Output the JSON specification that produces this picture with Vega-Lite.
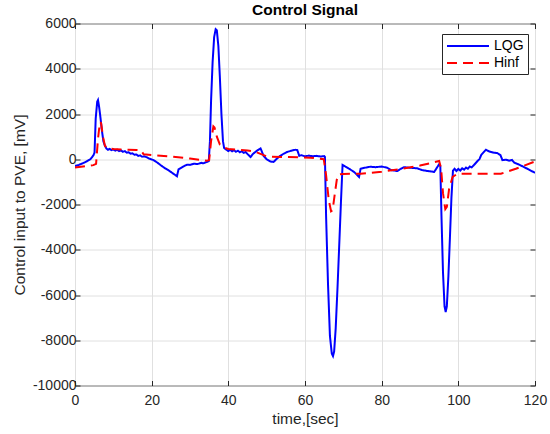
{
  "$schema": "https://vega.github.io/schema/vega-lite/v6.json",
  "width": 460,
  "height": 362,
  "autosize": "none",
  "padding": {"left": 75, "top": 23.5, "right": 15, "bottom": 48.5},
  "background": "white",
  "title": {"text": "Control Signal", "font": "Liberation Sans", "fontSize": 15.5, "fontWeight": "bold", "color": "black", "offset": -2, "anchor": "middle"},
  "config": {
    "view": {"stroke": "#262626", "strokeWidth": 1}
  },
  "data": {"values": [
    {"t":0,"v":-300,"s":"LQG"},{"t":1,"v":-250,"s":"LQG"},{"t":2,"v":-180,"s":"LQG"},{"t":3,"v":-100,"s":"LQG"},{"t":4,"v":0,"s":"LQG"},{"t":4.8,"v":170,"s":"LQG"},{"t":5.1,"v":300,"s":"LQG"},{"t":5.4,"v":1800,"s":"LQG"},{"t":5.8,"v":2550,"s":"LQG"},{"t":6.0,"v":2620,"s":"LQG"},{"t":6.3,"v":2300,"s":"LQG"},{"t":6.6,"v":1900,"s":"LQG"},{"t":7.0,"v":1300,"s":"LQG"},{"t":7.4,"v":800,"s":"LQG"},{"t":7.8,"v":600,"s":"LQG"},{"t":8.2,"v":470,"s":"LQG"},{"t":8.6,"v":420,"s":"LQG"},{"t":9.0,"v":460,"s":"LQG"},{"t":9.5,"v":400,"s":"LQG"},{"t":10,"v":440,"s":"LQG"},{"t":10.5,"v":380,"s":"LQG"},{"t":11,"v":420,"s":"LQG"},{"t":11.5,"v":360,"s":"LQG"},{"t":12,"v":390,"s":"LQG"},{"t":12.5,"v":330,"s":"LQG"},{"t":13,"v":360,"s":"LQG"},{"t":13.5,"v":290,"s":"LQG"},{"t":14,"v":310,"s":"LQG"},{"t":14.5,"v":250,"s":"LQG"},{"t":15,"v":260,"s":"LQG"},{"t":15.5,"v":200,"s":"LQG"},{"t":16,"v":210,"s":"LQG"},{"t":16.5,"v":150,"s":"LQG"},{"t":17,"v":170,"s":"LQG"},{"t":17.5,"v":110,"s":"LQG"},{"t":18,"v":130,"s":"LQG"},{"t":18.7,"v":90,"s":"LQG"},{"t":19.5,"v":20,"s":"LQG"},{"t":20.5,"v":-40,"s":"LQG"},{"t":21.5,"v":-150,"s":"LQG"},{"t":22.5,"v":-280,"s":"LQG"},{"t":23.5,"v":-400,"s":"LQG"},{"t":24.5,"v":-500,"s":"LQG"},{"t":25.5,"v":-620,"s":"LQG"},{"t":26.6,"v":-750,"s":"LQG"},{"t":27.0,"v":-450,"s":"LQG"},{"t":27.5,"v":-400,"s":"LQG"},{"t":28.2,"v":-330,"s":"LQG"},{"t":29.2,"v":-240,"s":"LQG"},{"t":30,"v":-250,"s":"LQG"},{"t":31,"v":-200,"s":"LQG"},{"t":32,"v":-210,"s":"LQG"},{"t":33,"v":-160,"s":"LQG"},{"t":33.5,"v":-180,"s":"LQG"},{"t":34.4,"v":-120,"s":"LQG"},{"t":34.9,"v":-80,"s":"LQG"},{"t":35.2,"v":800,"s":"LQG"},{"t":35.5,"v":2600,"s":"LQG"},{"t":35.9,"v":4300,"s":"LQG"},{"t":36.3,"v":5400,"s":"LQG"},{"t":36.7,"v":5750,"s":"LQG"},{"t":37.0,"v":5700,"s":"LQG"},{"t":37.4,"v":5000,"s":"LQG"},{"t":37.8,"v":3600,"s":"LQG"},{"t":38.2,"v":2000,"s":"LQG"},{"t":38.6,"v":800,"s":"LQG"},{"t":38.9,"v":500,"s":"LQG"},{"t":39.5,"v":420,"s":"LQG"},{"t":40,"v":360,"s":"LQG"},{"t":40.5,"v":420,"s":"LQG"},{"t":41,"v":350,"s":"LQG"},{"t":41.5,"v":400,"s":"LQG"},{"t":42,"v":330,"s":"LQG"},{"t":42.5,"v":380,"s":"LQG"},{"t":43,"v":310,"s":"LQG"},{"t":43.5,"v":350,"s":"LQG"},{"t":44,"v":280,"s":"LQG"},{"t":44.5,"v":320,"s":"LQG"},{"t":45,"v":230,"s":"LQG"},{"t":45.8,"v":100,"s":"LQG"},{"t":46.5,"v":250,"s":"LQG"},{"t":47.5,"v":380,"s":"LQG"},{"t":48.4,"v":480,"s":"LQG"},{"t":49.2,"v":150,"s":"LQG"},{"t":50,"v":0,"s":"LQG"},{"t":51,"v":-100,"s":"LQG"},{"t":51.8,"v":-120,"s":"LQG"},{"t":52.5,"v":0,"s":"LQG"},{"t":53.5,"v":150,"s":"LQG"},{"t":54.5,"v":250,"s":"LQG"},{"t":55.3,"v":320,"s":"LQG"},{"t":56.5,"v":380,"s":"LQG"},{"t":57.5,"v":420,"s":"LQG"},{"t":58,"v":400,"s":"LQG"},{"t":58.5,"v":150,"s":"LQG"},{"t":59,"v":180,"s":"LQG"},{"t":60,"v":130,"s":"LQG"},{"t":61,"v":160,"s":"LQG"},{"t":62,"v":130,"s":"LQG"},{"t":63,"v":150,"s":"LQG"},{"t":64,"v":120,"s":"LQG"},{"t":65,"v":140,"s":"LQG"},{"t":65.2,"v":100,"s":"LQG"},{"t":65.5,"v":-2500,"s":"LQG"},{"t":66,"v":-5500,"s":"LQG"},{"t":66.5,"v":-7800,"s":"LQG"},{"t":67.0,"v":-8600,"s":"LQG"},{"t":67.3,"v":-8700,"s":"LQG"},{"t":67.6,"v":-8500,"s":"LQG"},{"t":68.0,"v":-7500,"s":"LQG"},{"t":68.5,"v":-5600,"s":"LQG"},{"t":69.0,"v":-3500,"s":"LQG"},{"t":69.4,"v":-1800,"s":"LQG"},{"t":69.8,"v":-250,"s":"LQG"},{"t":70.5,"v":-320,"s":"LQG"},{"t":71.5,"v":-420,"s":"LQG"},{"t":72.8,"v":-560,"s":"LQG"},{"t":74.1,"v":-780,"s":"LQG"},{"t":74.5,"v":-420,"s":"LQG"},{"t":75.5,"v":-380,"s":"LQG"},{"t":77,"v":-330,"s":"LQG"},{"t":78.5,"v":-350,"s":"LQG"},{"t":80,"v":-320,"s":"LQG"},{"t":81.5,"v":-380,"s":"LQG"},{"t":82.5,"v":-480,"s":"LQG"},{"t":84.1,"v":-520,"s":"LQG"},{"t":85,"v":-420,"s":"LQG"},{"t":85.8,"v":-350,"s":"LQG"},{"t":87,"v":-370,"s":"LQG"},{"t":89.3,"v":-400,"s":"LQG"},{"t":90.5,"v":-480,"s":"LQG"},{"t":92,"v":-520,"s":"LQG"},{"t":93.7,"v":-560,"s":"LQG"},{"t":95.0,"v":-220,"s":"LQG"},{"t":95.3,"v":-300,"s":"LQG"},{"t":95.6,"v":-2500,"s":"LQG"},{"t":96,"v":-5000,"s":"LQG"},{"t":96.4,"v":-6500,"s":"LQG"},{"t":96.7,"v":-6750,"s":"LQG"},{"t":97.0,"v":-6500,"s":"LQG"},{"t":97.4,"v":-5200,"s":"LQG"},{"t":97.8,"v":-3500,"s":"LQG"},{"t":98.2,"v":-1700,"s":"LQG"},{"t":98.6,"v":-500,"s":"LQG"},{"t":99,"v":-420,"s":"LQG"},{"t":99.5,"v":-520,"s":"LQG"},{"t":100,"v":-430,"s":"LQG"},{"t":100.5,"v":-500,"s":"LQG"},{"t":101,"v":-400,"s":"LQG"},{"t":101.5,"v":-460,"s":"LQG"},{"t":102,"v":-370,"s":"LQG"},{"t":102.5,"v":-420,"s":"LQG"},{"t":103,"v":-320,"s":"LQG"},{"t":103.5,"v":-360,"s":"LQG"},{"t":104.1,"v":-250,"s":"LQG"},{"t":105,"v":-80,"s":"LQG"},{"t":105.5,"v":0,"s":"LQG"},{"t":106,"v":200,"s":"LQG"},{"t":107.2,"v":420,"s":"LQG"},{"t":108,"v":350,"s":"LQG"},{"t":109,"v":300,"s":"LQG"},{"t":110.2,"v":270,"s":"LQG"},{"t":111,"v":180,"s":"LQG"},{"t":111.5,"v":-40,"s":"LQG"},{"t":112.5,"v":-20,"s":"LQG"},{"t":113.2,"v":-60,"s":"LQG"},{"t":114,"v":-30,"s":"LQG"},{"t":114.6,"v":-150,"s":"LQG"},{"t":116,"v":-250,"s":"LQG"},{"t":118,"v":-420,"s":"LQG"},{"t":120,"v":-600,"s":"LQG"},
    {"t":0,"v":-370,"s":"Hinf"},{"t":4.8,"v":-260,"s":"Hinf"},{"t":5.5,"v":-200,"s":"Hinf"},{"t":6.0,"v":900,"s":"Hinf"},{"t":6.5,"v":1650,"s":"Hinf"},{"t":6.8,"v":1600,"s":"Hinf"},{"t":7.3,"v":1000,"s":"Hinf"},{"t":7.8,"v":600,"s":"Hinf"},{"t":8.5,"v":480,"s":"Hinf"},{"t":10,"v":450,"s":"Hinf"},{"t":12,"v":430,"s":"Hinf"},{"t":14,"v":420,"s":"Hinf"},{"t":16,"v":410,"s":"Hinf"},{"t":17.2,"v":400,"s":"Hinf"},{"t":17.9,"v":220,"s":"Hinf"},{"t":20,"v":190,"s":"Hinf"},{"t":25,"v":120,"s":"Hinf"},{"t":30,"v":30,"s":"Hinf"},{"t":34.4,"v":-70,"s":"Hinf"},{"t":35.0,"v":-30,"s":"Hinf"},{"t":35.5,"v":800,"s":"Hinf"},{"t":36.1,"v":1450,"s":"Hinf"},{"t":36.4,"v":1400,"s":"Hinf"},{"t":37.0,"v":1000,"s":"Hinf"},{"t":37.8,"v":650,"s":"Hinf"},{"t":38.8,"v":520,"s":"Hinf"},{"t":40,"v":450,"s":"Hinf"},{"t":42,"v":430,"s":"Hinf"},{"t":45,"v":390,"s":"Hinf"},{"t":47,"v":330,"s":"Hinf"},{"t":48.4,"v":240,"s":"Hinf"},{"t":50.1,"v":120,"s":"Hinf"},{"t":55,"v":100,"s":"Hinf"},{"t":61.4,"v":70,"s":"Hinf"},{"t":64.9,"v":0,"s":"Hinf"},{"t":65.5,"v":-700,"s":"Hinf"},{"t":66.2,"v":-1800,"s":"Hinf"},{"t":66.8,"v":-2300,"s":"Hinf"},{"t":67.2,"v":-2250,"s":"Hinf"},{"t":67.8,"v":-1500,"s":"Hinf"},{"t":68.3,"v":-900,"s":"Hinf"},{"t":68.8,"v":-670,"s":"Hinf"},{"t":70,"v":-650,"s":"Hinf"},{"t":74.5,"v":-640,"s":"Hinf"},{"t":80,"v":-550,"s":"Hinf"},{"t":85,"v":-430,"s":"Hinf"},{"t":90,"v":-280,"s":"Hinf"},{"t":95,"v":-80,"s":"Hinf"},{"t":95.5,"v":-400,"s":"Hinf"},{"t":96,"v":-1500,"s":"Hinf"},{"t":96.6,"v":-2200,"s":"Hinf"},{"t":97.0,"v":-2100,"s":"Hinf"},{"t":97.6,"v":-1300,"s":"Hinf"},{"t":98.5,"v":-780,"s":"Hinf"},{"t":99.8,"v":-640,"s":"Hinf"},{"t":105,"v":-640,"s":"Hinf"},{"t":111.1,"v":-640,"s":"Hinf"},{"t":115,"v":-420,"s":"Hinf"},{"t":120,"v":-100,"s":"Hinf"}
  ]},
  "layer": [
    {
      "mark": {"type": "line", "strokeWidth": 2, "clip": true},
      "encoding": {
        "x": {"field": "t", "type": "quantitative", "scale": {"domain": [0, 120], "nice": false}, "axis": {"orient": "bottom", "values": [0,20,40,60,80,100,120], "title": "time,[sec]", "labelFont": "Liberation Sans", "titleFont": "Liberation Sans", "labelFontSize": 14, "titleFontSize": 15.5, "titleFontWeight": "normal", "labelColor": "#262626", "titleColor": "#262626", "domain": false, "tickColor": "#262626", "tickSize": -5, "gridColor": "#e0e0e0", "labelPadding": 13, "titlePadding": 4, "labelFlush": false}},
        "y": {"field": "v", "type": "quantitative", "scale": {"domain": [-10000, 6000], "nice": false}, "axis": {"orient": "left", "values": [-10000,-8000,-6000,-4000,-2000,0,2000,4000,6000], "labelExpr": "datum.value + ''", "title": "Control input to PVE, [mV]", "labelFont": "Liberation Sans", "titleFont": "Liberation Sans", "labelFontSize": 14, "titleFontSize": 15.5, "titleFontWeight": "normal", "labelColor": "#262626", "titleColor": "#262626", "domain": false, "tickColor": "#262626", "tickSize": -5, "gridColor": "#e0e0e0", "labelPadding": 4, "titlePadding": 5}},
        "color": {"field": "s", "type": "nominal", "scale": {"domain": ["LQG", "Hinf"], "range": ["#0000ff", "#ff0000"]}, "legend": {"title": null, "orient": "none", "legendX": 367, "legendY": 10.5, "symbolType": "M-3,0H3", "symbolSize": 196, "symbolStrokeWidth": 2, "symbolOffset": 14, "labelFont": "Liberation Sans", "labelFontSize": 14, "labelColor": "black", "labelOffset": 18, "padding": 4, "rowPadding": 2, "strokeColor": "#262626", "fillColor": "white", "cornerRadius": 0}},
        "strokeDash": {"field": "s", "type": "nominal", "scale": {"domain": ["LQG", "Hinf"], "range": [[1, 0], [10, 6]]}, "legend": {"title": null}}
      }
    },
    {
      "mark": {"type": "line", "opacity": 0},
      "encoding": {
        "x": {"field": "t", "type": "quantitative", "scale": {"domain": [0, 120], "nice": false}, "axis": {"orient": "top", "values": [0,20,40,60,80,100,120], "labels": false, "grid": false, "title": null, "domain": false, "tickColor": "#262626", "tickSize": -5}},
        "y": {"field": "v", "type": "quantitative", "scale": {"domain": [-10000, 6000], "nice": false}, "axis": {"orient": "right", "values": [-10000,-8000,-6000,-4000,-2000,0,2000,4000,6000], "labels": false, "grid": false, "title": null, "domain": false, "tickColor": "#262626", "tickSize": -5}}
      }
    }
  ],
  "resolve": {"axis": {"x": "independent", "y": "independent"}}
}
